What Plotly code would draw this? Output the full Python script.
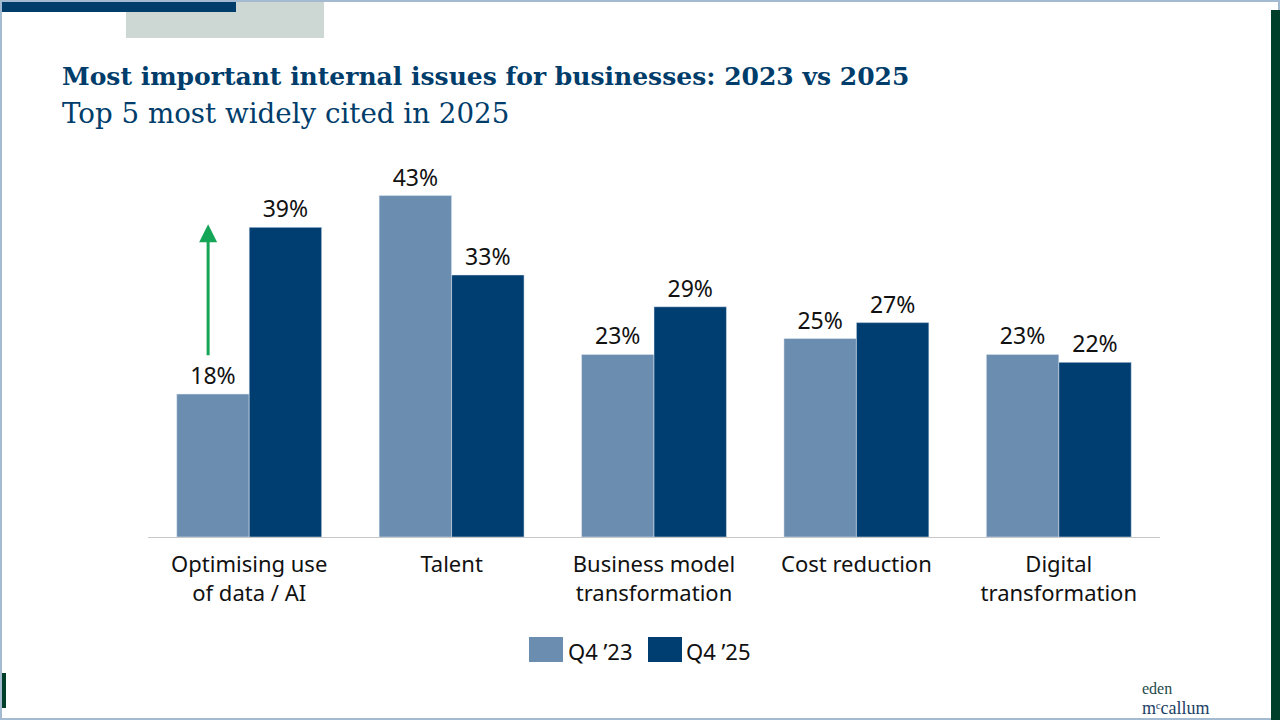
import plotly.graph_objects as go

categories = ["Optimising use<br>of data / AI", "Talent", "Business model<br>transformation",
              "Cost reduction", "Digital<br>transformation"]
q4_23 = [18, 43, 23, 25, 23]
q4_25 = [39, 33, 29, 27, 22]
series_names = ["Q4 \u201923", "Q4 \u201925"]
arrow_from, arrow_to = 22.7, 39.4

C23 = "#6a8db0"
C25 = "#003e71"
NAVY = "#003d6b"
GREEN = "#00402a"

W, H = 1280, 720
L, R, T, B = 148, 1160, 140, 537
ymax = 50

def px(x):
    return (x - L) / (R - L)

def py(y):
    return (B - y) / (B - T)

fig = go.Figure()
for vals, name, col in [(q4_23, series_names[0], C23), (q4_25, series_names[1], C25)]:
    fig.add_trace(go.Bar(x=categories, y=vals, name=name, marker_color=col,
                         text=[f"{v}%" for v in vals], textposition="outside",
                         textfont=dict(size=23, color="#111111", family="Noto Sans"),
                         cliponaxis=False, showlegend=False))

shapes = [
    dict(type="rect", xref="paper", yref="paper", x0=px(1), x1=px(1279), y0=py(1), y1=py(719),
         line=dict(color="#a3bad0", width=2), fillcolor="rgba(0,0,0,0)", layer="below"),
    dict(type="rect", xref="paper", yref="paper", x0=px(126), x1=px(324), y0=py(2), y1=py(38),
         line=dict(width=0), fillcolor="#cdd8d5"),
    dict(type="rect", xref="paper", yref="paper", x0=px(2), x1=px(236), y0=py(2), y1=py(12),
         line=dict(width=0), fillcolor=NAVY),
    dict(type="rect", xref="paper", yref="paper", x0=px(1271), x1=px(1280), y0=py(10), y1=py(720),
         line=dict(width=0), fillcolor=GREEN),
    dict(type="rect", xref="paper", yref="paper", x0=px(2), x1=px(6), y0=py(673), y1=py(708),
         line=dict(width=0), fillcolor=GREEN),
    # legend swatches
    dict(type="rect", xref="paper", yref="paper", x0=px(529), x1=px(563), y0=py(637), y1=py(662),
         line=dict(width=0), fillcolor=C23),
    dict(type="rect", xref="paper", yref="paper", x0=px(648), x1=px(682), y0=py(637), y1=py(662),
         line=dict(width=0), fillcolor=C25),
]

annotations = [
    dict(text="<b>Most important internal issues for businesses: 2023 vs 2025</b>",
         xref="paper", yref="paper", x=px(60), y=py(77), xanchor="left", yanchor="middle",
         showarrow=False, font=dict(family="DejaVu Serif", size=25, color=NAVY)),
    dict(text="Top 5 most widely cited in 2025",
         xref="paper", yref="paper", x=px(60), y=py(114), xanchor="left", yanchor="middle",
         showarrow=False, font=dict(family="DejaVu Serif", size=27.7, color=NAVY)),
    dict(text=series_names[0], xref="paper", yref="paper", x=px(566), y=py(651), xanchor="left",
         yanchor="middle", showarrow=False, font=dict(family="Noto Sans", size=22, color="#111111")),
    dict(text=series_names[1], xref="paper", yref="paper", x=px(684), y=py(651), xanchor="left",
         yanchor="middle", showarrow=False, font=dict(family="Noto Sans", size=22, color="#111111")),
    dict(text="eden", xref="paper", yref="paper", x=px(1141), y=py(698), xanchor="left",
         yanchor="bottom", showarrow=False, borderpad=0,
         font=dict(family="Liberation Serif", size=16, color="#1e4a4a")),
    dict(text="m\u1d9ccallum", xref="paper", yref="paper", x=px(1141), y=py(697), xanchor="left",
         yanchor="top", showarrow=False, borderpad=0,
         font=dict(family="Liberation Serif", size=18, color="#1e3f66")),
    dict(x=-0.203, y=arrow_to, ax=-0.203, ay=arrow_from, xref="x", yref="y", axref="x", ayref="y",
         text="", showarrow=True, arrowhead=2, arrowsize=1.2, arrowwidth=3, arrowcolor="#15a556"),
]

fig.update_layout(
    width=W, height=H,
    margin=dict(l=L, r=W - R, t=T, b=H - B, pad=0),
    paper_bgcolor="white", plot_bgcolor="white",
    barmode="group", bargap=0.284, bargroupgap=0,
    showlegend=False,
    xaxis=dict(showline=True, linecolor="#c8c8c8", linewidth=1, ticks="outside", ticklen=8,
               tickcolor="rgba(0,0,0,0)", tickfont=dict(size=22, family="Noto Sans", color="#111111"),
               showgrid=False),
    yaxis=dict(range=[0, ymax], visible=False, showgrid=False),
    shapes=shapes,
    annotations=annotations,
)

fig.write_html("out.html", config={"displayModeBar": False},
               post_script="document.body.style.margin='0px';")
